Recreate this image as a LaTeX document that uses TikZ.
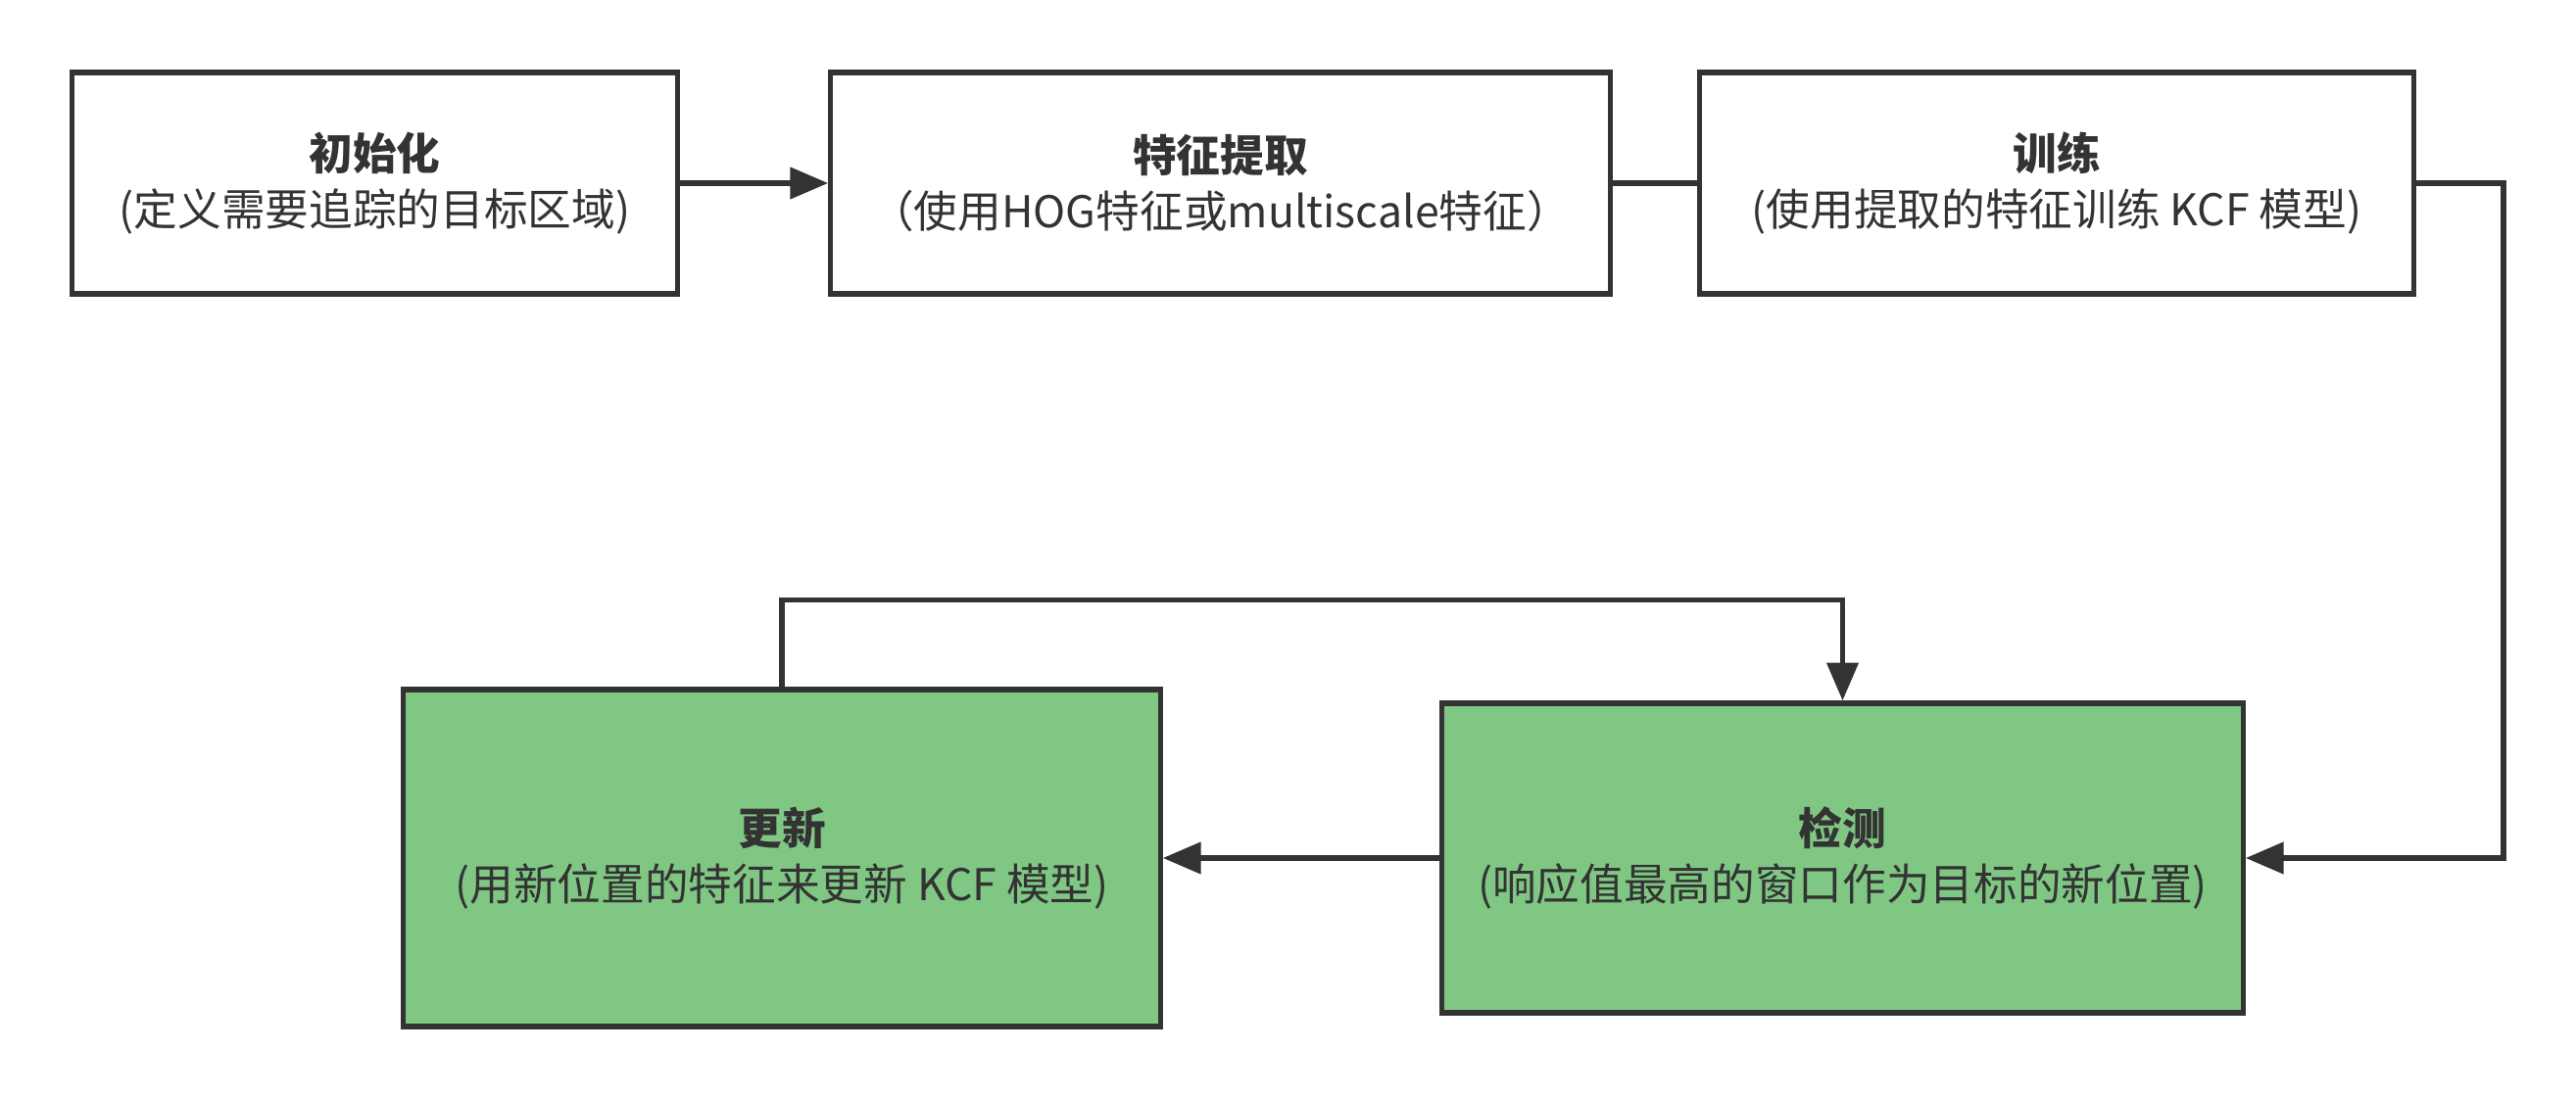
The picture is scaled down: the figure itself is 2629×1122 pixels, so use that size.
\documentclass[tikz,border=0pt]{standalone}
\usepackage{fontspec}
\setmainfont{Noto Sans CJK SC}
\usepackage{tikz}
\usepackage{xcolor}
\usetikzlibrary{arrows.meta, positioning}

\definecolor{linegray}{HTML}{333333}
\definecolor{boxgreen}{RGB}{128,199,132}

\tikzset{
  stage/.style={draw=linegray, line width=1.5pt, rectangle, align=center,
    text=linegray, font=\fontsize{12.7}{16.2}\selectfont, inner sep=0pt},
  done/.style={stage, fill=boxgreen},
  flow/.style={draw=linegray, line width=1.5pt, -{Triangle[length=11pt,width=9pt]}},
  link/.style={draw=linegray, line width=1.5pt}
}

\begin{document}
\begin{tikzpicture}[x=0.01cm, y=-0.01cm]
                        \useasboundingbox (0,0) rectangle (2629,1122);

                        \node[stage, minimum width=6.17cm, minimum height=2.26cm] (init) at (382.5, 187)
                            {\textbf{初始化}\\(定义需要追踪的目标区域)};
                        \node[stage, minimum width=7.95cm, minimum height=2.26cm] (feat) at (1245.5, 187)
                            {\textbf{特征提取}\\（使用HOG特征或multiscale特征）};
                        \node[stage, minimum width=7.28cm, minimum height=2.26cm] (train) at (2099, 187)
                            {\textbf{训练}\\(使用提取的特征训练 KCF 模型)};
                        \node[done, minimum width=7.72cm, minimum height=3.44cm] (update) at (798, 876)
                            {\textbf{更新}\\(用新位置的特征来更新 KCF 模型)};
                        \node[done, minimum width=8.17cm, minimum height=3.16cm] (detect) at (1880.5, 876)
                            {\textbf{检测}\\(响应值最高的窗口作为目标的新位置)};

                        \draw[flow] (init) -- (feat);
                        \draw[link] (feat) -- (train);
                        \draw[flow] (train.east) -- ++(89, 0) |- (detect.east);
                        \draw[flow] (detect) -- (update);
                        \draw[flow] (update.north) -- ++(0, -89) -| (detect.north);
                    \end{tikzpicture}
\end{document}
